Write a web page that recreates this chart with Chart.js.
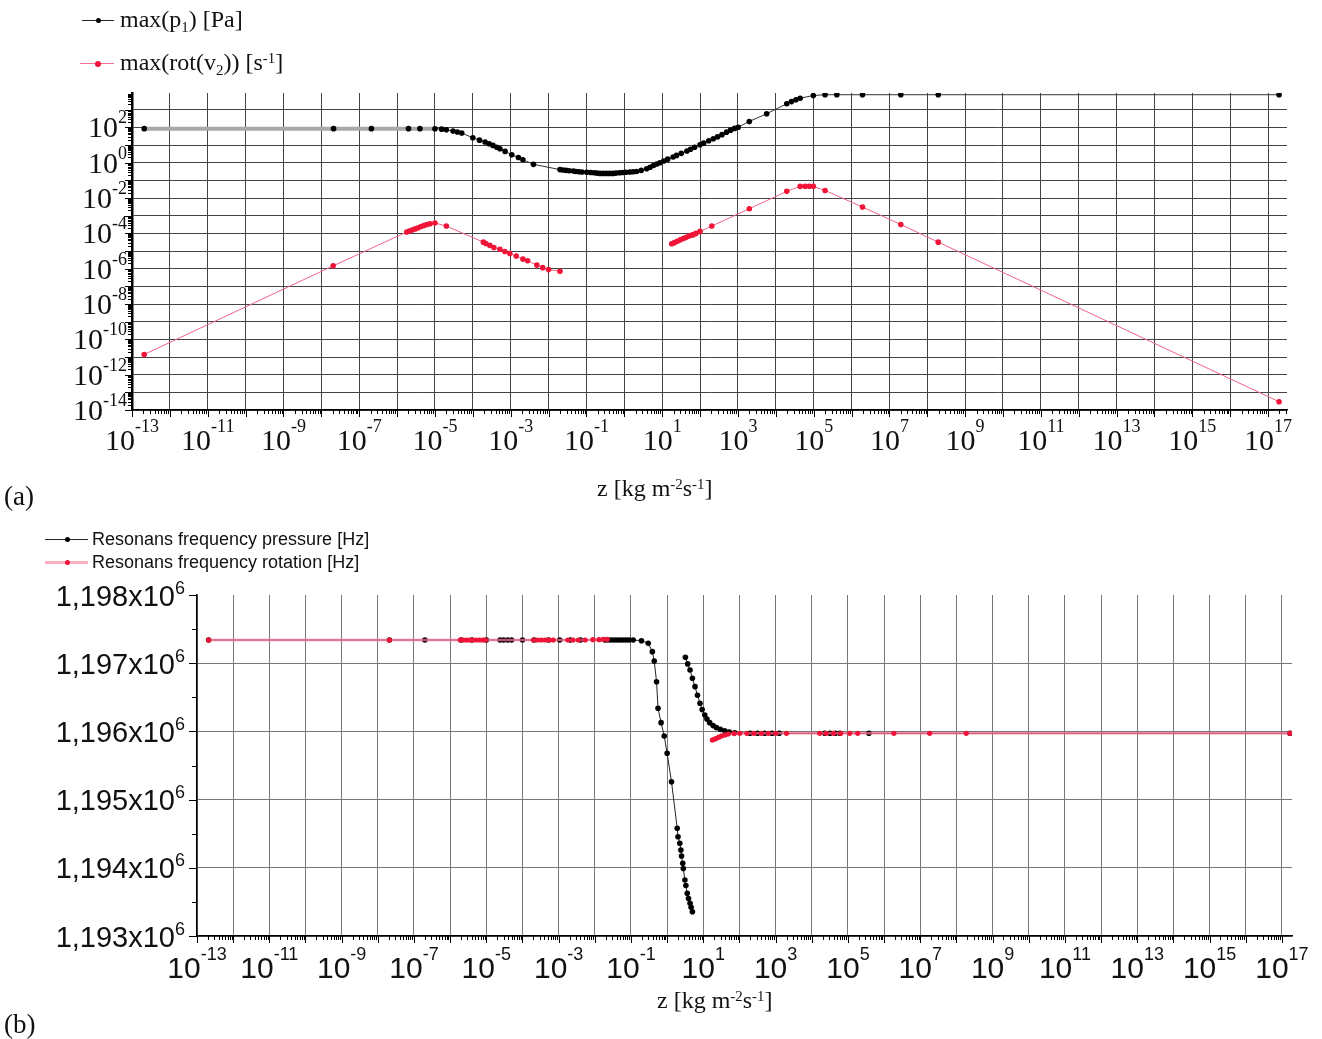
<!DOCTYPE html>
<html>
<head>
<meta charset="utf-8">
<script src="https://cdn.jsdelivr.net/npm/chart.js@4"></script>
<style>
  body { margin: 0; background: #fff; width: 1322px; height: 1039px; position: relative; overflow: hidden; }
  canvas { position: absolute; left: 0; }
  #topChart { top: 0; }
  #botChart { top: 520px; }
  .t { position: absolute; white-space: nowrap; line-height: 1; color: #111; font-family: "Liberation Serif", "Times New Roman", serif; }
  .sans { font-family: "Liberation Sans", Arial, sans-serif; }
  .lo { position: relative; top: 0.32em; font-size: 62%; }
  .hi { position: relative; top: -0.5em; font-size: 62%; }
  .ln { position: absolute; }
  .dot { position: absolute; border-radius: 50%; }
</style>
</head>
<body>
<canvas id="topChart" width="1322" height="520"></canvas>
<canvas id="botChart" width="1322" height="519"></canvas>

<!-- legend, panel a -->
<div class="ln" style="left:82px;top:20px;width:32px;height:1px;background:#222"></div>
<div class="dot" style="left:96px;top:18px;width:5px;height:5px;background:#000"></div>
<div class="t" style="left:120px;top:7px;font-size:24px">max(p<span class="lo">1</span>) [Pa]</div>
<div class="ln" style="left:80px;top:63px;width:34px;height:1px;background:#f07090"></div>
<div class="dot" style="left:95px;top:61px;width:6px;height:6px;background:#f01438"></div>
<div class="t" style="left:120px;top:50px;font-size:24px">max(rot(v<span class="lo">2</span>)) [s<span class="hi">-1</span>]</div>
<div class="t" style="left:597px;top:476px;font-size:24px">z [kg m<span class="hi">-2</span>s<span class="hi">-1</span>]</div>
<div class="t" style="left:4px;top:483px;font-size:27px">(a)</div>

<!-- legend, panel b -->
<div class="ln" style="left:45px;top:539px;width:43px;height:1px;background:#222"></div>
<div class="dot" style="left:65px;top:537px;width:5px;height:5px;background:#000"></div>
<div class="t sans" style="left:92px;top:530px;font-size:18px">Resonans frequency pressure [Hz]</div>
<div class="ln" style="left:45px;top:561px;width:43px;height:3px;background:rgba(255,120,150,0.6)"></div>
<div class="dot" style="left:65px;top:560px;width:5px;height:5px;background:#f01438"></div>
<div class="t sans" style="left:92px;top:553px;font-size:18px">Resonans frequency rotation [Hz]</div>
<div class="t" style="left:657px;top:988px;font-size:24px">z [kg m<span class="hi">-2</span>s<span class="hi">-1</span>]</div>
<div class="t" style="left:4px;top:1011px;font-size:27px">(b)</div>

<script>
// ---- panel (a): maximum pressure amplitude against z ----
const zP1 = [2.1e-13, 2.1e-8, 2.1e-7, 2.0e-6, 4.0e-6, 1.0e-5, 1.5e-5, 2.0e-5, 3.0e-5, 3.9e-5,
  5.1e-5, 1.0e-4, 1.5e-4, 2.1e-4, 2.7e-4, 3.4e-4, 4.3e-4, 5.2e-4, 7.1e-4, 1.07e-3,
  1.6e-3, 2.1e-3, 4.0e-3, 2.0e-2, 2.4e-2, 2.9e-2, 3.5e-2, 4.5e-2, 5.2e-2, 6.3e-2,
  7.6e-2, 0.102, 0.13, 0.16, 0.19, 0.23, 0.28, 0.34, 0.41, 0.5,
  0.6, 0.74, 0.9, 1.1, 1.4, 1.7, 2.1, 2.8, 3.9, 4.8,
  5.9, 7.2, 8.7, 11, 14, 19.5, 24, 32, 45, 56,
  72, 100, 125, 170, 224, 290, 380, 500, 640, 820,
  1020, 2000, 5750, 1.95e4, 2.6e4, 3.4e4, 4.4e4, 9.8e4, 2.0e5, 4.1e5,
  1.95e6, 2.0e7, 1.95e8, 1.95e17];
const p1Max = [85, 85, 85, 85, 85, 84, 80, 74, 62, 55,
  48, 26, 19, 15, 12, 9.6, 7.6, 6.2, 4.4, 2.8,
  2.0, 1.48, 0.81, 0.41, 0.39, 0.37, 0.35, 0.34, 0.32, 0.31,
  0.30, 0.29, 0.28, 0.27, 0.26, 0.25, 0.25, 0.25, 0.25, 0.25,
  0.26, 0.27, 0.28, 0.29, 0.30, 0.31, 0.32, 0.37, 0.46, 0.56,
  0.70, 0.85, 1.0, 1.25, 1.6, 2.1, 2.6, 3.4, 4.6, 5.8,
  7.5, 10.5, 13, 17.5, 23, 29, 39, 54, 70, 88,
  103, 218, 595, 2190, 2900, 3700, 4500, 6400, 7100, 7100,
  7100, 7100, 7100, 7100];

// maximum vorticity, low-z and high-z branches
const zRotLow = [2.1e-13, 2.05e-8, 1.8e-6, 2.1e-6, 2.5e-6, 3.0e-6, 3.6e-6, 4.3e-6, 5.1e-6, 6.1e-6,
  7.4e-6, 1.0e-5, 2.0e-5, 1.9e-4, 2.2e-4, 2.8e-4, 3.6e-4, 5.2e-4, 7.0e-4, 9.5e-4,
  1.4e-3, 2.1e-3, 2.8e-3, 4.9e-3, 7.0e-3, 1.0e-2, 2.0e-2];
const rotLow = [1.4e-11, 1.45e-6, 1.2e-4, 1.35e-4, 1.55e-4, 1.8e-4, 2.1e-4, 2.45e-4, 2.8e-4, 3.2e-4,
  3.5e-4, 3.9e-4, 2.6e-4, 3.2e-5, 2.7e-5, 2.1e-5, 1.6e-5, 1.26e-5, 9.5e-6, 7.2e-6,
  5.2e-6, 3.5e-6, 2.8e-6, 1.6e-6, 1.15e-6, 8.9e-7, 7.2e-7];
const zRotHigh = [17.8, 21, 25, 30, 36, 42, 50, 58, 66, 78,
  100, 204, 2000, 1.95e4, 4.4e4, 5.9e4, 7.6e4, 9.8e4, 2.0e5, 1.95e6,
  2.0e7, 1.95e8, 1.95e17];
const rotHigh = [2.6e-5, 3.0e-5, 3.6e-5, 4.3e-5, 5.1e-5, 5.9e-5, 6.9e-5, 7.9e-5, 8.5e-5, 1.0e-4,
  1.3e-4, 2.6e-4, 2.5e-3, 2.4e-2, 4.6e-2, 4.7e-2, 4.7e-2, 4.6e-2, 2.7e-2, 3.1e-3,
  3.2e-4, 3.2e-5, 2.95e-14];

// ---- panel (b): resonance frequencies against z ----
const zPresLow = [2.1e-13, 2.1e-8, 2.0e-7, 2.0e-6, 4.0e-6, 1.0e-5, 2.4e-5, 3.0e-5, 3.9e-5, 5.0e-5,
  1.0e-4, 2.1e-4, 5.2e-4, 1.07e-3, 2.1e-3, 4.0e-3, 1.9e-2, 2.3e-2, 2.8e-2, 3.4e-2,
  4.1e-2, 5.0e-2, 6.0e-2, 7.3e-2, 8.8e-2, 0.115, 0.195, 0.30, 0.39, 0.44,
  0.51, 0.56, 0.68, 0.83, 1.0, 1.32, 1.9, 2.0, 2.24, 2.4,
  2.5, 2.7, 2.8, 3.1, 3.3, 3.6, 3.9, 4.3, 4.6, 5.0];
const fPresLow = [1197340, 1197340, 1197340, 1197340, 1197340, 1197340, 1197340, 1197340, 1197340, 1197340,
  1197340, 1197340, 1197340, 1197340, 1197340, 1197340, 1197340, 1197340, 1197340, 1197340,
  1197340, 1197340, 1197340, 1197340, 1197340, 1197340, 1197330, 1197292, 1197169, 1197032,
  1196729, 1196339, 1196128, 1195933, 1195679, 1195262, 1194579, 1194456, 1194359, 1194261,
  1194173, 1194066, 1193990, 1193821, 1193740, 1193626, 1193550, 1193479, 1193420, 1193356];
const zPresHigh = [3.2, 3.7, 4.3, 5.0, 5.9, 6.9, 8.1, 9.3, 11, 12.6,
  15, 18.6, 23, 29.5, 39, 52, 74, 195, 316, 500,
  794, 1260, 2.3e4, 3.2e4, 4.5e4, 6.0e4, 3.8e5, 1.66e17];
const fPresHigh = [1197087, 1196990, 1196900, 1196780, 1196656, 1196530, 1196412, 1196320, 1196240, 1196180,
  1196128, 1196085, 1196055, 1196030, 1196010, 1195992, 1195981, 1195972, 1195972, 1195972,
  1195972, 1195972, 1195972, 1195972, 1195972, 1195972, 1195972, 1195972];
const zFrotLow = [2.1e-13, 2.1e-8, 1.9e-6, 2.3e-6, 2.8e-6, 3.4e-6, 4.2e-6, 5.2e-6, 6.5e-6, 8.0e-6,
  9.3e-6, 2.0e-4, 2.6e-4, 3.3e-4, 4.2e-4, 5.5e-4, 7.1e-4, 1.8e-3, 2.5e-3, 3.5e-3,
  5.4e-3, 8.9e-3, 1.3e-2, 1.7e-2, 2.2e-2];
const fRotLow = [1197340, 1197340, 1197340, 1197340, 1197340, 1197340, 1197340, 1197340, 1197340, 1197340,
  1197340, 1197340, 1197340, 1197340, 1197340, 1197340, 1197340, 1197340, 1197340, 1197340,
  1197340, 1197345, 1197345, 1197350, 1197350];
const zFrotHigh = [17.8, 20, 23, 27, 32, 40, 49, 71, 102, 160,
  250, 400, 630, 1000, 2000, 1.66e4, 2.5e4, 4.0e4, 6.3e4, 1.12e5,
  1.86e5, 1.86e6, 1.82e7, 1.86e8, 1.66e17];
const fRotHigh = [1195874, 1195885, 1195899, 1195915, 1195933, 1195948, 1195962, 1195968, 1195972, 1195972,
  1195972, 1195972, 1195972, 1195972, 1195972, 1195972, 1195972, 1195972, 1195972, 1195972,
  1195972, 1195972, 1195972, 1195972, 1195972];

// tick labels
const xLabelExp = [-13, -11, -9, -7, -5, -3, -1, 1, 3, 5, 7, 9, 11, 13, 15, 17];
const topYLabelExp = [-14, -12, -10, -8, -6, -4, -2, 0, 2];
const botYTicks = [1193000, 1194000, 1195000, 1196000, 1197000, 1198000];
const botYLabels = ['1,193', '1,194', '1,195', '1,196', '1,197', '1,198'];

const pts = (xs, ys) => xs.map((v, i) => ({ x: v, y: ys[i] }));
const decades = (a, b) => {
  const t = [];
  for (let e = a; e <= b; e++) t.push({ value: Math.pow(10, e) });
  return t;
};

// "10" with a raised exponent
function drawPow(ctx, x, y, base, exp, align, baseFont, expFont, rise) {
  ctx.font = baseFont;
  const wb = ctx.measureText(base).width;
  ctx.font = expFont;
  const we = ctx.measureText(exp).width;
  const left = align === 'right' ? x - wb - we : x - (wb + we) / 2;
  ctx.textAlign = 'left';
  ctx.textBaseline = 'alphabetic';
  ctx.font = baseFont;
  ctx.fillText(base, left, y);
  ctx.font = expFont;
  ctx.fillText(exp, left + wb, y - rise);
}

// log minor ticks along the x axis, pointing down
function logTicksX(ctx, sc, y0, e0, e1, major, minor) {
  for (let e = e0; e <= e1; e++) {
    for (let k = 1; k <= 9; k++) {
      const v = k * Math.pow(10, e);
      if (v > sc.max) return;
      const px = Math.round(sc.getPixelForValue(v)) + 0.5;
      ctx.moveTo(px, y0);
      ctx.lineTo(px, y0 + (k === 1 ? major : minor));
    }
  }
}

const topAxes = {
  id: 'topAxes',
  afterDraw(chart) {
    const { ctx, chartArea: a, scales: { x, y } } = chart;
    ctx.save();
    ctx.strokeStyle = '#000';
    ctx.lineWidth = 1;
    ctx.beginPath();
    logTicksX(ctx, x, a.bottom, -13, 17, 7, 4);
    for (let e = -14; e <= 3; e++) {
      for (let k = 1; k <= 9; k++) {
        const v = k * Math.pow(10, e);
        if (v > y.max) break;
        const py = Math.round(y.getPixelForValue(v)) + 0.5;
        ctx.moveTo(a.left, py);
        ctx.lineTo(a.left - (k === 1 ? 7 : 4), py);
      }
    }
    ctx.stroke();
    ctx.fillStyle = '#111';
    const bf = '30px "Liberation Serif"', ef = '18px "Liberation Serif"';
    xLabelExp.forEach(e => drawPow(ctx, x.getPixelForValue(Math.pow(10, e)), 450, '10', String(e), 'center', bf, ef, 18));
    topYLabelExp.forEach(e => drawPow(ctx, 127, y.getPixelForValue(Math.pow(10, e)) + 10, '10', String(e), 'right', bf, ef, 14));
    ctx.restore();
  }
};

const botAxes = {
  id: 'botAxes',
  afterDraw(chart) {
    const { ctx, chartArea: a, scales: { x, y } } = chart;
    ctx.save();
    ctx.strokeStyle = '#000';
    ctx.lineWidth = 1;
    ctx.beginPath();
    logTicksX(ctx, x, a.bottom, -13, 17, 7, 4);
    for (let v = 1193000; v <= 1198000; v += 500) {
      const py = Math.round(y.getPixelForValue(v)) + 0.5;
      ctx.moveTo(a.left, py);
      ctx.lineTo(a.left - (v % 1000 === 0 ? 8 : 5), py);
    }
    ctx.stroke();
    ctx.fillStyle = '#111';
    xLabelExp.forEach(e => drawPow(ctx, x.getPixelForValue(Math.pow(10, e)), 458, '10', String(e), 'center',
      '30px "Liberation Sans"', '18px "Liberation Sans"', 18));
    botYTicks.forEach((v, i) => drawPow(ctx, 185, y.getPixelForValue(v) + 10.5, botYLabels[i] + 'x10', '6', 'right',
      '29px "Liberation Sans"', '18px "Liberation Sans"', 12));
    ctx.restore();
  }
};

const red = '#f01438';

new Chart(document.getElementById('topChart'), {
  type: 'scatter',
  data: {
    datasets: [
      {
        data: pts(zP1, p1Max), showLine: true, borderColor: '#333', borderWidth: 1,
        pointRadius: 2.8, pointBorderWidth: 0, pointBackgroundColor: '#000',
        segment: {
          borderColor: c => c.p1.parsed.x <= 1.1e-5 ? '#a8a8a8' : '#333',
          borderWidth: c => c.p1.parsed.x <= 1.1e-5 ? 4 : 1
        }
      },
      {
        data: pts(zRotLow, rotLow), showLine: true, borderColor: '#f06484', borderWidth: 1,
        pointRadius: 2.8, pointBorderWidth: 0, pointBackgroundColor: red
      },
      {
        data: pts(zRotHigh, rotHigh), showLine: true, borderColor: '#f06484', borderWidth: 1,
        pointRadius: 2.8, pointBorderWidth: 0, pointBackgroundColor: red
      }
    ]
  },
  options: {
    responsive: false, animation: false, events: [],
    layout: { padding: { left: 132, top: 93, right: 35, bottom: 110 } },
    plugins: { legend: { display: false }, tooltip: { enabled: false } },
    scales: {
      x: {
        type: 'logarithmic', min: 1e-13, max: 3.16e17,
        afterBuildTicks: s => { s.ticks = decades(-13, 17); },
        afterFit: s => { s.height = 0; },
        ticks: { display: false, autoSkip: false },
        grid: { color: '#444', lineWidth: 1, drawTicks: false },
        border: { color: '#000', width: 1.5 }
      },
      y: {
        type: 'logarithmic', min: 1e-14, max: 8.9e3,
        afterBuildTicks: s => { s.ticks = decades(-14, 3); },
        afterFit: s => { s.width = 0; },
        ticks: { display: false, autoSkip: false },
        grid: { color: '#444', lineWidth: 1, drawTicks: false },
        border: { color: '#000', width: 2.5 }
      }
    }
  },
  plugins: [topAxes]
});

new Chart(document.getElementById('botChart'), {
  type: 'scatter',
  data: {
    datasets: [
      {
        data: pts(zFrotLow, fRotLow), showLine: true, order: 0,
        borderColor: 'rgba(255,110,145,0.75)', borderWidth: 2.5,
        pointRadius: 2.6, pointBorderWidth: 0, pointBackgroundColor: red
      },
      {
        data: pts(zFrotHigh, fRotHigh), showLine: true, order: 0,
        borderColor: 'rgba(255,110,145,0.75)', borderWidth: 2.5,
        pointRadius: 2.6, pointBorderWidth: 0, pointBackgroundColor: red
      },
      {
        data: pts(zPresLow, fPresLow), showLine: true, order: 1,
        borderColor: '#222', borderWidth: 1,
        pointRadius: 2.8, pointBorderWidth: 0, pointBackgroundColor: '#000'
      },
      {
        data: pts(zPresHigh, fPresHigh), showLine: true, order: 1,
        borderColor: '#222', borderWidth: 1,
        pointRadius: 2.8, pointBorderWidth: 0, pointBackgroundColor: '#000'
      }
    ]
  },
  options: {
    responsive: false, animation: false, events: [],
    layout: { padding: { left: 197, top: 75, right: 30, bottom: 103 } },
    plugins: { legend: { display: false }, tooltip: { enabled: false } },
    scales: {
      x: {
        type: 'logarithmic', min: 1e-13, max: 1.9e17,
        afterBuildTicks: s => { s.ticks = decades(-13, 17); },
        afterFit: s => { s.height = 0; },
        ticks: { display: false, autoSkip: false },
        grid: { color: '#777', lineWidth: 1, drawTicks: false },
        border: { color: '#000', width: 1.5 }
      },
      y: {
        type: 'linear', min: 1193000, max: 1198000,
        afterBuildTicks: s => { s.ticks = botYTicks.map(v => ({ value: v })); },
        afterFit: s => { s.width = 0; },
        ticks: { display: false, autoSkip: false },
        grid: {
          color: c => (c.tick && c.tick.value >= 1198000) ? 'rgba(0,0,0,0)' : '#777',
          lineWidth: 1, drawTicks: false
        },
        border: { color: '#000', width: 1.5 }
      }
    }
  },
  plugins: [botAxes]
});
</script>
</body>
</html>
